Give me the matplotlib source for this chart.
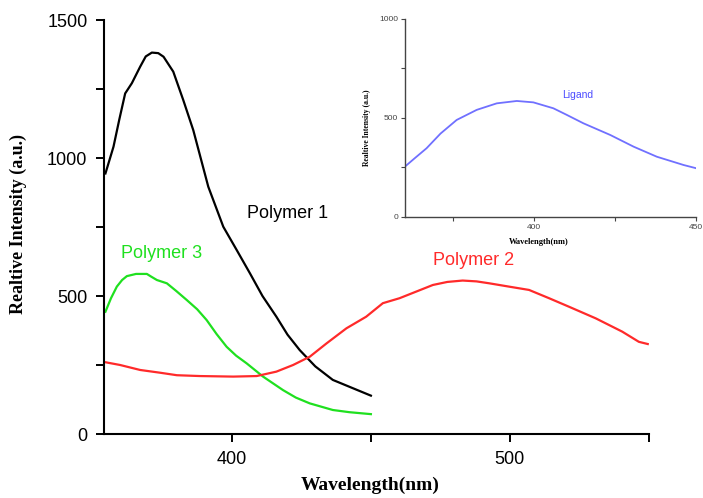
import matplotlib
matplotlib.use('Agg')
import matplotlib.pyplot as plt
from matplotlib.ticker import MultipleLocator

plt.rcParams['font.family'] = ['Liberation Sans', 'DejaVu Sans']

W, H = 703, 498

# Polymer 1 (black)
p1_x = [354.5, 357.4, 359.5, 361.6, 364.0, 367.0, 369.0, 371.2, 373.5, 375.4,
        378.9, 382.5, 386.1, 391.5, 396.9, 401.7, 406.5, 411.0, 416.0, 420.0,
        424.4, 430.0, 436.3, 442.3, 450.0]
p1_y = [944, 1041, 1140, 1234, 1271, 1331, 1368, 1382, 1380, 1367,
        1313, 1210, 1101, 896, 751, 667, 582, 500, 425, 360,
        304, 245, 196, 171, 139]

# Polymer 3 (green)
p3_x = [354.5, 356.5, 358.6, 360.5, 362.2, 365.5, 369.4, 371.0, 373.0, 376.6,
        380.0, 383.7, 387.5, 390.9, 394.5, 398.1, 401.5, 405.3, 411.2, 418.4,
        423.0, 428.0, 436.3, 442.3, 450.0]
p3_y = [443, 492, 534, 558, 572, 580, 580, 570, 558, 546,
        518, 486, 452, 413, 362, 316, 284, 256, 208, 159,
        132, 111, 87, 79, 72]

# Polymer 2 (red)
p2_x = [354.5, 359.8, 367.0, 374.2, 380.2, 388.5, 400.5, 408.9, 416.0, 422.0,
        428.0, 434.0, 441.2, 448.3, 454.3, 460.3, 466.3, 472.3, 477.5, 483.0,
        488.0, 492.6, 499.7, 506.9, 514.1, 521.3, 530.9, 540.4, 546.4, 549.6]
p2_y = [260, 250, 232, 222, 213, 210, 208, 210, 226, 250,
        280, 328, 383, 425, 474, 492, 516, 540, 551, 556,
        553, 546, 534, 522, 492, 461, 419, 371, 334, 326]

# Ligand (inset)
lig_x = [360.0, 363.0, 366.7, 371.0, 376.0, 382.2, 388.4, 394.6, 399.7, 405.9,
         410.0, 415.2, 423.5, 430.7, 437.9, 446.2, 450.0]
lig_y = [253, 295, 346, 420, 489, 540, 573, 585, 578, 548,
         515, 472, 413, 354, 303, 261, 245]

fig = plt.figure(figsize=(7.03, 4.98), dpi=100)

ax = fig.add_axes([0.148, 0.1285, 0.775, 0.8313])
ax.plot(p1_x, p1_y, color='black', lw=1.6)
ax.plot(p3_x, p3_y, color='#1fe01f', lw=1.6)
ax.plot(p2_x, p2_y, color='#ff2a2a', lw=1.6)
ax.set_xlim(354, 550)
ax.set_ylim(0, 1500)
ax.xaxis.set_major_locator(MultipleLocator(100))
ax.xaxis.set_minor_locator(MultipleLocator(50))
ax.yaxis.set_major_locator(MultipleLocator(500))
ax.yaxis.set_minor_locator(MultipleLocator(250))
for s in ['top', 'right']:
    ax.spines[s].set_visible(False)
for s in ['left', 'bottom']:
    ax.spines[s].set_linewidth(1.5)
ax.tick_params(which='major', direction='out', length=6, width=1.4, labelsize=13, pad=6)
ax.tick_params(which='minor', direction='out', length=6, width=1.4)

fig.text(288 / W, 1 - 213 / H, 'Polymer 1', fontsize=13, color='black',
         ha='center', va='center')
fig.text(162 / W, 1 - 254 / H, 'Polymer 3', fontsize=13, color='#1fe01f',
         ha='center', va='center')
fig.text(474 / W, 1 - 260 / H, 'Polymer 2', fontsize=13, color='#ff2a2a',
         ha='center', va='center')

fig.text(18 / W, 1 - 224 / H, 'Realtive Intensity (a.u.)', rotation=90,
         family='Liberation Serif', weight='bold', fontsize=13, ha='center', va='center')
fig.text(370 / W, 1 - 485 / H, 'Wavelength(nm)', family='Liberation Serif',
         weight='bold', fontsize=14, ha='center', va='center')

# Inset
ins = fig.add_axes([0.576, 0.565, 0.414, 0.397])
ins.plot(lig_x, lig_y, color='#7070ff', lw=1.3)
ins.set_xlim(360, 450)
ins.set_ylim(0, 1000)
ins.xaxis.set_major_locator(MultipleLocator(50))
ins.xaxis.set_minor_locator(MultipleLocator(25))
ins.yaxis.set_major_locator(MultipleLocator(500))
ins.yaxis.set_minor_locator(MultipleLocator(250))
for s in ['top', 'right']:
    ins.spines[s].set_visible(False)
for s in ['left', 'bottom']:
    ins.spines[s].set_linewidth(1.0)
    ins.spines[s].set_color('#444444')
ins.tick_params(which='both', direction='out', length=3, width=0.8, labelsize=6, pad=2,
                colors='#444444')
fig.text(578 / W, 1 - 95 / H, 'Ligand', fontsize=7.5, color='#4a4aff',
         ha='center', va='center')
fig.text(367 / W, 1 - 128 / H, 'Realtive Intensity (a.u.)', rotation=90,
         family='Liberation Serif', weight='bold', fontsize=5.5, ha='center', va='center')
fig.text(539 / W, 1 - 242 / H, 'Wavelength(nm)', family='Liberation Serif',
         weight='bold', fontsize=6, ha='center', va='center')

fig.savefig('out.png', dpi=100)
